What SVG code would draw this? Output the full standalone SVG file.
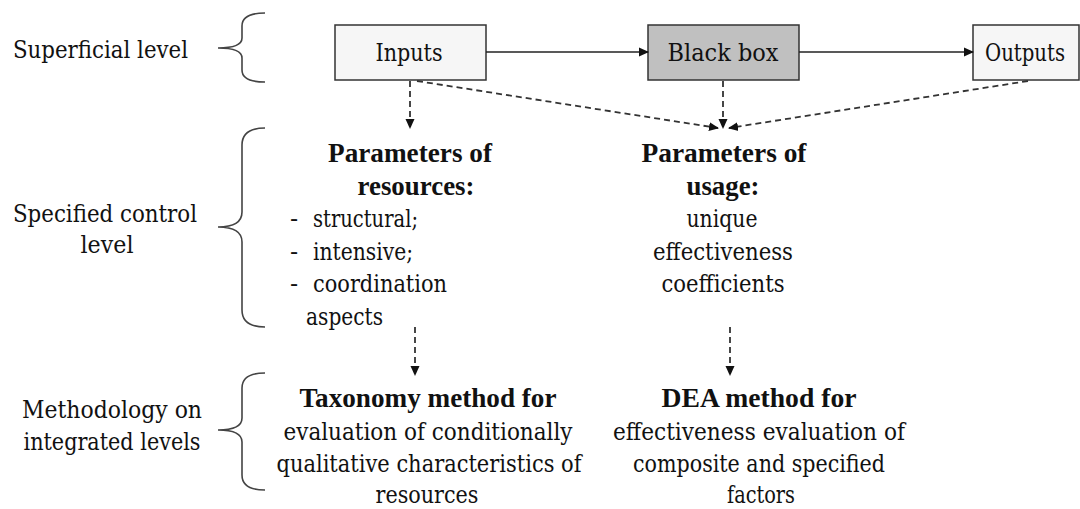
<svg xmlns="http://www.w3.org/2000/svg" width="1080" height="509" viewBox="0 0 1080 509" font-family="'Liberation Serif', serif">
  <style>
    text { font-family: "DejaVu Serif", "Liberation Serif", serif; font-size: 24px; fill: #111; }
    .b { font-family: "Liberation Serif", "Times New Roman", serif; font-weight: bold; font-size: 27px; }
    .c { text-anchor: middle; }
    .box { stroke: #333; stroke-width: 1.5; }
    .light { fill: #f6f6f6; }
    .dark { fill: #c0c0c0; }
    .solid { stroke: #222; stroke-width: 1.6; fill: none; }
    .dash { stroke: #333; stroke-width: 1.8; fill: none; stroke-dasharray: 6 4; }
    .brace { stroke: #444; stroke-width: 1.6; fill: none; }
  </style>
  <defs>
    <marker id="ah" markerWidth="10" markerHeight="10" refX="9" refY="5" orient="auto" markerUnits="userSpaceOnUse">
      <path d="M0,0.5 L10,5 L0,9.5 Z" fill="#111"/>
    </marker>
  </defs>

  <g id="level-labels">
    <text x="13" y="58" textLength="175" lengthAdjust="spacingAndGlyphs">Superficial level</text>
    <text class="c" x="105" y="222" textLength="184" lengthAdjust="spacingAndGlyphs">Specified control</text>
    <text class="c" x="107" y="253" textLength="53" lengthAdjust="spacingAndGlyphs">level</text>
    <text class="c" x="112" y="418" textLength="180" lengthAdjust="spacingAndGlyphs">Methodology on</text>
    <text class="c" x="112" y="450" textLength="177" lengthAdjust="spacingAndGlyphs">integrated levels</text>
  </g>

  <g id="braces">
    <path class="brace" d="M265,13 Q242,13 242,26 L242,38 Q242,48 218,48 Q242,48 242,58 L242,70 Q242,82 265,82"/>
    <path class="brace" d="M265,128 Q242,128 242,145 L242,212 Q242,227 218,227 Q242,227 242,242 L242,310 Q242,327 265,327"/>
    <path class="brace" d="M265,373 Q242,373 242,388 L242,418 Q242,430 218,430 Q242,430 242,442 L242,475 Q242,490 265,490"/>
  </g>

  <g id="node-inputs">
    <rect class="box light" x="335" y="25" width="151" height="55"/>
    <text class="c" x="409" y="61" textLength="67" lengthAdjust="spacingAndGlyphs">Inputs</text>
  </g>
  <g id="node-blackbox">
    <rect class="box dark" x="648" y="25" width="151" height="55"/>
    <text class="c" x="723" y="61" textLength="111" lengthAdjust="spacingAndGlyphs">Black box</text>
  </g>
  <g id="node-outputs">
    <rect class="box light" x="973" y="25" width="106" height="55"/>
    <text class="c" x="1025" y="61" textLength="80" lengthAdjust="spacingAndGlyphs">Outputs</text>
  </g>

  <g id="node-resources">
    <text class="c b" x="410" y="162" textLength="164" lengthAdjust="spacingAndGlyphs">Parameters of</text>
    <text class="c b" x="416" y="194.5" textLength="117" lengthAdjust="spacingAndGlyphs">resources:</text>
    <text x="290" y="227">-</text><text x="313" y="227" textLength="105" lengthAdjust="spacingAndGlyphs">structural;</text>
    <text x="290" y="259.5">-</text><text x="313" y="259.5" textLength="100" lengthAdjust="spacingAndGlyphs">intensive;</text>
    <text x="290" y="292">-</text><text x="313" y="292" textLength="134" lengthAdjust="spacingAndGlyphs">coordination</text>
    <text x="306" y="324.5" textLength="77" lengthAdjust="spacingAndGlyphs">aspects</text>
  </g>

  <g id="node-usage">
    <text class="c b" x="724" y="162" textLength="165" lengthAdjust="spacingAndGlyphs">Parameters of</text>
    <text class="c b" x="723" y="194.5" textLength="73" lengthAdjust="spacingAndGlyphs">usage:</text>
    <text class="c" x="722" y="227" textLength="71" lengthAdjust="spacingAndGlyphs">unique</text>
    <text class="c" x="723" y="259.5" textLength="140" lengthAdjust="spacingAndGlyphs">effectiveness</text>
    <text class="c" x="723" y="292" textLength="123" lengthAdjust="spacingAndGlyphs">coefficients</text>
  </g>

  <g id="node-taxonomy">
    <text class="c b" x="428" y="407" textLength="257" lengthAdjust="spacingAndGlyphs">Taxonomy method for</text>
    <text class="c" x="428" y="440" textLength="289" lengthAdjust="spacingAndGlyphs">evaluation of conditionally</text>
    <text class="c" x="429" y="472" textLength="305" lengthAdjust="spacingAndGlyphs">qualitative characteristics of</text>
    <text class="c" x="427" y="503" textLength="103" lengthAdjust="spacingAndGlyphs">resources</text>
  </g>

  <g id="node-dea">
    <text class="c b" x="759" y="407" textLength="195" lengthAdjust="spacingAndGlyphs">DEA method for</text>
    <text class="c" x="759" y="440" textLength="292" lengthAdjust="spacingAndGlyphs">effectiveness evaluation of</text>
    <text class="c" x="759" y="472" textLength="252" lengthAdjust="spacingAndGlyphs">composite and specified</text>
    <text class="c" x="761" y="503" textLength="68" lengthAdjust="spacingAndGlyphs">factors</text>
  </g>

  <g id="connectors">
    <line class="solid" x1="486" y1="52" x2="648" y2="52" marker-end="url(#ah)"/>
    <line class="solid" x1="799" y1="52" x2="973" y2="52" marker-end="url(#ah)"/>
    <line class="dash" x1="410" y1="81" x2="410" y2="128" marker-end="url(#ah)"/>
    <line class="dash" x1="723" y1="81" x2="723" y2="128" marker-end="url(#ah)"/>
    <line class="dash" x1="417" y1="81" x2="718" y2="128" marker-end="url(#ah)"/>
    <line class="dash" x1="1028" y1="81" x2="729" y2="128" marker-end="url(#ah)"/>
    <line class="dash" x1="415" y1="327" x2="415" y2="375" marker-end="url(#ah)"/>
    <line class="dash" x1="730" y1="327" x2="730" y2="375" marker-end="url(#ah)"/>
  </g>
</svg>
